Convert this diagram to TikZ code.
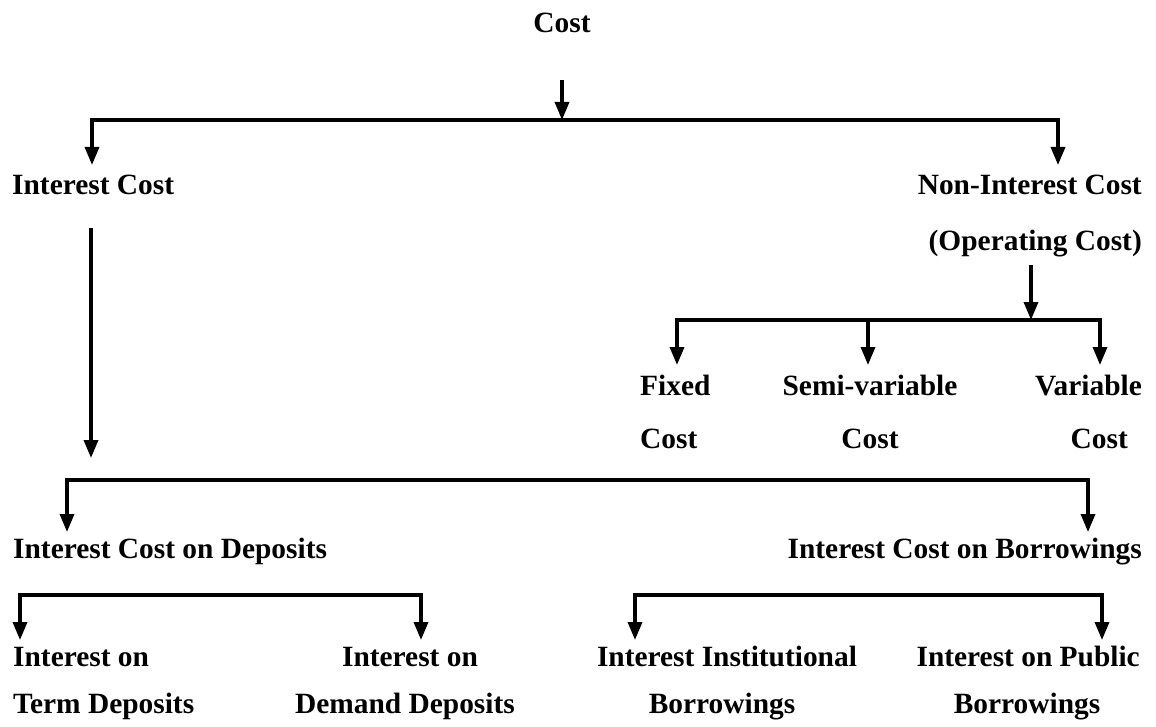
\documentclass[tikz,border=0pt]{standalone}
\usepackage{fontspec}
\setmainfont{Liberation Serif}
\usetikzlibrary{arrows.meta}
\tikzset{
  lbl/.style={inner sep=0pt, font=\fontsize{29.4}{29.4}\selectfont\bfseries},
  arr/.style={line width=3.4pt, -{Triangle[width=14pt,length=18pt]}},
}
\begin{document}
\begin{tikzpicture}[x=1pt,y=-1pt]
\useasboundingbox[fill=white] (0,0) rectangle (1156,727);
% texts (anchor = base)
\node[lbl, anchor=base] (cost) at (562,33) {Cost};
\node[lbl, anchor=base west] (ic) at (12,195) {Interest Cost};
\node[lbl, anchor=base east] (nic) at (1142,195) {Non-Interest Cost};
\node[lbl, anchor=base east] (opc) at (1142,251) {(Operating Cost)};
\node[lbl, anchor=base west] (fix) at (640,395) {Fixed};
\node[lbl, anchor=base west] (fix2) at (640,448) {Cost};
\node[lbl, anchor=base] (semi) at (870,395) {Semi-variable};
\node[lbl, anchor=base] (semi2) at (870,448) {Cost};
\node[lbl, anchor=base east] (var) at (1142,395) {Variable};
\node[lbl, anchor=base east] (var2) at (1128,448) {Cost};
\node[lbl, anchor=base west] (icd) at (13,558) {Interest Cost on Deposits};
\node[lbl, anchor=base east] (icb) at (1142,558) {Interest Cost on Borrowings};
\node[lbl, anchor=base west] (iot) at (13,666) {Interest on};
\node[lbl, anchor=base west] (iot2) at (13,713) {Term Deposits};
\node[lbl, anchor=base] (iod) at (410,666) {Interest on};
\node[lbl, anchor=base] (iod2) at (405,713) {Demand Deposits};
\node[lbl, anchor=base] (iib) at (727,666) {Interest Institutional};
\node[lbl, anchor=base] (iib2) at (722,713) {Borrowings};
\node[lbl, anchor=base east] (iop) at (1140,666) {Interest on Public};
\node[lbl, anchor=base] (iop2) at (1027,713) {Borrowings};
% connector points
\coordinate (c0) at (562,80);
\coordinate (j1) at (562,120);
\coordinate (tIC) at (92,165);
\coordinate (tNIC) at (1058,165);
\coordinate (ic0) at (91,228);
\coordinate (ic1) at (91,458);
\coordinate (o0) at (1031,265);
\coordinate (j2) at (1031,320);
\coordinate (tF) at (677,365);
\coordinate (tS) at (868,365);
\coordinate (tV) at (1100,365);
\coordinate (h3) at (91,480);
\coordinate (tD) at (67,532);
\coordinate (tB) at (1088,532);
\coordinate (h4) at (220,595);
\coordinate (tT) at (20,640);
\coordinate (tDD) at (421,640);
\coordinate (h5) at (880,595);
\coordinate (tI) at (635,640);
\coordinate (tP) at (1102,640);
% connectors
\draw[arr] (c0) -- (j1);
\draw[arr] (j1) -| (tIC);
\draw[arr] (j1) -| (tNIC);
\draw[arr] (ic0) -- (ic1);
\draw[arr] (o0) -- (j2);
\draw[arr] (j2) -| (tF);
\draw[arr] (j2) -| (tS);
\draw[arr] (j2) -| (tV);
\draw[arr] (h3) -| (tD);
\draw[arr] (h3) -| (tB);
\draw[arr] (h4) -| (tT);
\draw[arr] (h4) -| (tDD);
\draw[arr] (h5) -| (tI);
\draw[arr] (h5) -| (tP);
\end{tikzpicture}
\end{document}
